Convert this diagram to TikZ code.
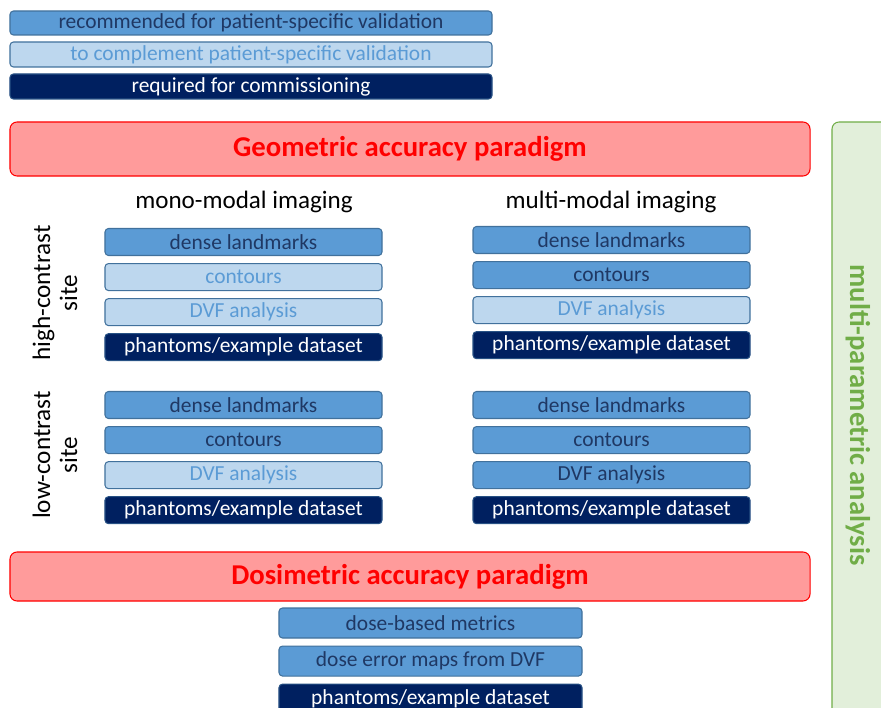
\documentclass[tikz,border=0pt]{standalone}
\usepackage{fontspec}
\setmainfont{Carlito}
\usetikzlibrary{positioning}

\definecolor{midblue}{HTML}{5B9BD5}
\definecolor{paleblue}{HTML}{BDD7EE}
\definecolor{navy}{HTML}{002060}
\definecolor{edgeblue}{HTML}{41719C}
\definecolor{inkblue}{HTML}{1F3864}
\definecolor{parared}{HTML}{FF9B9B}
\definecolor{paragreen}{HTML}{E2EFDA}
\definecolor{greenink}{HTML}{70AD47}

\begin{document}
\begin{tikzpicture}[
  x=0.03cm, y=-0.03cm,
  node distance=0.21cm,
  every node/.style={font=\fontsize{18.3}{20}\selectfont},
  recbox/.style={draw=edgeblue, line width=0.9pt, fill=midblue, text=inkblue, rounded corners=3pt, minimum width=8.31cm, minimum height=0.81cm, inner sep=0pt},
  compbox/.style={recbox, fill=paleblue, text=midblue},
  reqbox/.style={recbox, draw=edgeblue!60!navy, fill=navy, text=white},
  paradigm/.style={draw=red, line width=0.9pt, fill=parared, text=red, rounded corners=6pt, minimum width=24cm, font=\fontsize{24.5}{26}\selectfont\bfseries},
  sidelabel/.style={align=center, rotate=90, font=\fontsize{21.5}{23}\selectfont}
]
\clip (0,0) rectangle (881,707);

% Legend
\node[recbox, minimum width=14.46cm, minimum height=0.72cm] (legrec) at (251,23) {recommended for patient-specific validation};
\node[compbox, minimum width=14.46cm, minimum height=0.75cm] (legcomp) at (251,54.5) {to complement patient-specific validation};
\node[reqbox, minimum width=14.46cm, minimum height=0.75cm] (legreq) at (251,86.5) {required for commissioning};

% Multi-parametric analysis
\node[draw=greenink, line width=0.9pt, fill=paragreen, rounded corners=6pt, minimum width=1.74cm, minimum height=17.94cm, inner sep=0pt] (multi) at (861,421) {};
\node[rotate=-90, text=greenink, font=\fontsize{24.4}{26}\selectfont\bfseries] (multitext) at (858,415) {multi-parametric analysis};

% Geometric accuracy paradigm
\node[paradigm, minimum height=1.62cm] (geom) at (410,149) {Geometric accuracy paradigm};
\node[font=\fontsize{21.4}{23}\selectfont] (mono) at (244,202) {mono-modal imaging};
\node[font=\fontsize{21.4}{23}\selectfont] (multimod) at (611,202) {multi-modal imaging};

% High-contrast site
\node[sidelabel] (high) at (55,293) {high-contrast\\site};
\node[recbox] (hmonolm) at (243.5,242) {dense landmarks};
\node[compbox, below=of hmonolm] (hmonoct) {contours};
\node[compbox, below=of hmonoct] (hmonodvf) {DVF analysis};
\node[reqbox, below=of hmonodvf] (hmonoph) {phantoms/example dataset};

\node[recbox] (hmultilm) at (611.5,240) {dense landmarks};
\node[recbox, below=of hmultilm] (hmultict) {contours};
\node[compbox, below=of hmultict] (hmultidvf) {DVF analysis};
\node[reqbox, below=of hmultidvf] (hmultiph) {phantoms/example dataset};

% Low-contrast site
\node[sidelabel] (low) at (55,455) {low-contrast\\site};
\node[recbox] (lmonolm) at (243.5,405) {dense landmarks};
\node[recbox, below=of lmonolm] (lmonoct) {contours};
\node[compbox, below=of lmonoct] (lmonodvf) {DVF analysis};
\node[reqbox, below=of lmonodvf] (lmonoph) {phantoms/example dataset};

\node[recbox] (lmultilm) at (611.5,405) {dense landmarks};
\node[recbox, below=of lmultilm] (lmultict) {contours};
\node[recbox, below=of lmultict] (lmultidvf) {DVF analysis};
\node[reqbox, below=of lmultidvf] (lmultiph) {phantoms/example dataset};

% Dosimetric accuracy paradigm
\node[paradigm, minimum height=1.47cm] (dosi) at (410,576.5) {Dosimetric accuracy paradigm};
\node[recbox, minimum width=9.09cm, minimum height=0.9cm] (dosemet) at (430.5,623) {dose-based metrics};
\node[recbox, minimum width=9.09cm, minimum height=0.9cm, below=of dosemet] (dosemap) {dose error maps from DVF};
\node[reqbox, minimum width=9.09cm, minimum height=0.9cm, below=of dosemap] (doseph) {phantoms/example dataset};

\end{tikzpicture}
\end{document}
